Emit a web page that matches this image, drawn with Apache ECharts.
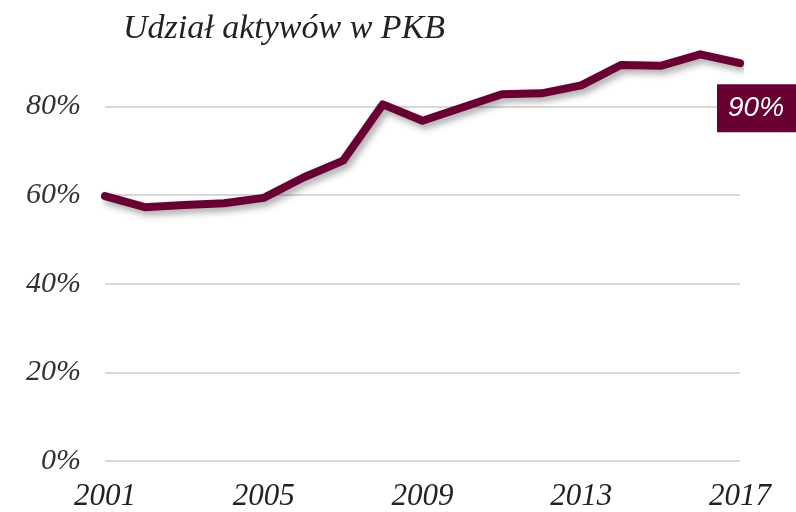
<!DOCTYPE html>
<html>
<head>
<meta charset="utf-8">
<script src="https://cdn.jsdelivr.net/npm/echarts@6/dist/echarts.min.js"></script>
<style>html,body{margin:0;padding:0;background:#fff}#c{width:796px;height:512px}</style>
</head>
<body>
<div id="c"></div>
<script>
var titleText = 'Udział aktywów w PKB';
var years = ['2001','2002','2003','2004','2005','2006','2007','2008','2009','2010','2011','2012','2013','2014','2015','2016','2017'];
var assetShare = [59.8, 57.3, 57.8, 58.2, 59.4, 64.0, 67.8, 80.5, 76.8, 79.8, 82.8, 83.0, 84.8, 89.4, 89.2, 91.8, 89.8];
var endLabelText = '90%';

var chart = echarts.init(document.getElementById('c'), null, {renderer: 'canvas'});
var maroon = '#690034';
chart.setOption({
  animation: false,
  title: {
    text: titleText, left: 118, top: 7,
    textStyle: {fontFamily: 'Liberation Serif', fontStyle: 'italic', fontWeight: 'normal', fontSize: 34, color: '#222'}
  },
  grid: {left: 105, right: 56, top: 18, bottom: 50},
  xAxis: {
    type: 'category', data: years, boundaryGap: false,
    axisLine: {show: false}, axisTick: {show: false},
    axisLabel: {interval: 3, margin: 20, fontFamily: 'Liberation Serif', fontStyle: 'italic', fontSize: 31, color: '#222'}
  },
  yAxis: {
    type: 'value', min: 0, max: 100, interval: 20,
    axisLine: {show: false}, axisTick: {show: false},
    axisLabel: {showMaxLabel: false, margin: 24, fontFamily: 'Liberation Serif', fontStyle: 'italic', fontSize: 30, color: '#333',
      formatter: function (v) { return v + '%'; }},
    splitLine: {showMaxLine: false, lineStyle: {color: '#d9d9d9', width: 2}}
  },
  series: [{
    type: 'line', data: assetShare, symbol: 'none', smooth: false,
    lineStyle: {color: maroon, width: 8, shadowColor: 'rgba(0,0,0,0.35)', shadowBlur: 7, shadowOffsetX: 3, shadowOffsetY: 4, cap: 'round', join: 'round'},
    endLabel: {
      show: true, formatter: endLabelText, align: 'left', verticalAlign: 'middle',
      offset: [-31, 45], backgroundColor: maroon, color: '#fff',
      fontFamily: 'Liberation Sans', fontStyle: 'italic', fontSize: 28, padding: [10, 14, 10, 11]
    }
  }]
});
</script>
</body>
</html>
